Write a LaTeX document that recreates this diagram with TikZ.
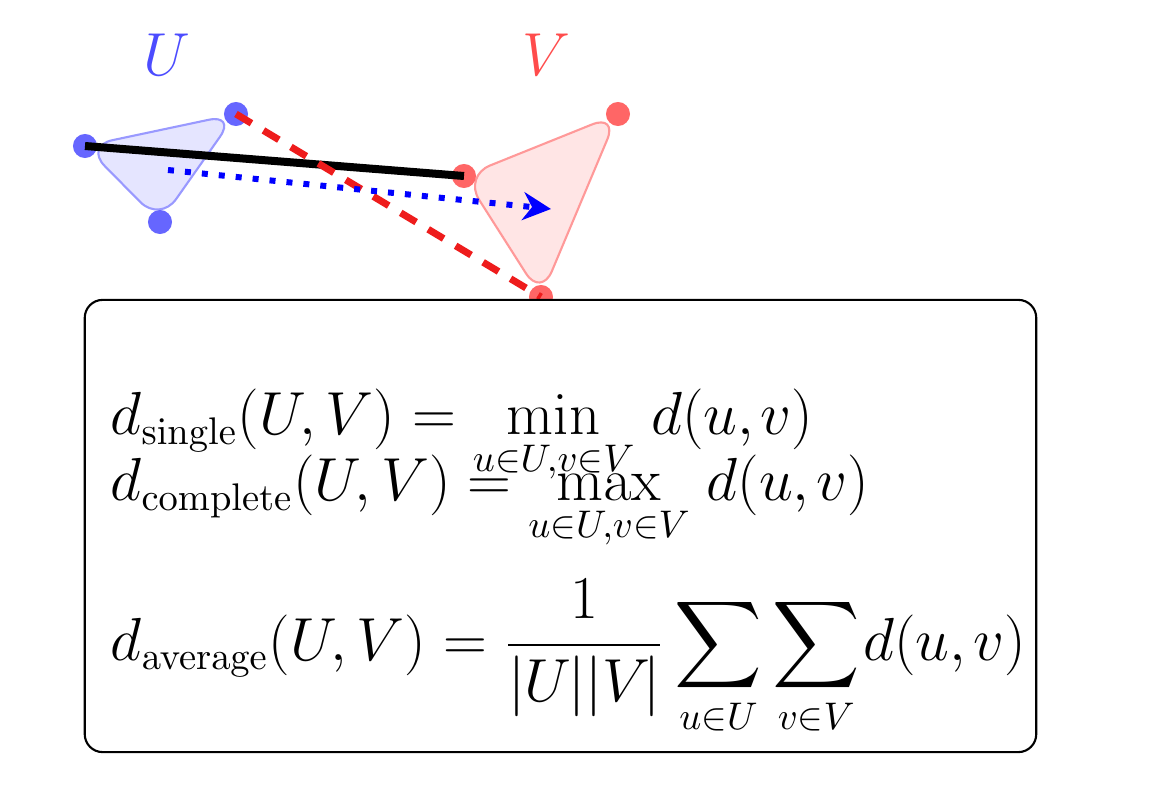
\documentclass[tikz,border=0pt]{standalone}
\usepackage{amsmath}
\usetikzlibrary{arrows.meta}
\definecolor{dashred}{RGB}{238,28,28}
\begin{document}
\begin{tikzpicture}[x=0.01cm,y=-0.01cm,
  udot/.style={circle,inner sep=0pt,minimum size=0.24cm,fill=blue!60},
  vdot/.style={circle,inner sep=0pt,minimum size=0.24cm,fill=red!60},
  utri/.style={fill=blue!10,draw=blue!40,line width=0.6pt,rounded corners=0.28cm},
  vtri/.style={fill=red!10,draw=red!40,line width=0.6pt,rounded corners=0.28cm},
  single/.style={line width=0.08cm,black},
  complete/.style={line width=0.07cm,dashred,dash pattern=on 0.18cm off 0.14cm},
  average/.style={line width=0.06cm,blue,dash pattern=on 0.06cm off 0.11cm,-{Stealth[length=0.28cm,width=0.28cm,inset=0.09cm]}},
  boxst/.style={draw=black,line width=0.6pt,fill=white,rounded corners=0.18cm,inner sep=0pt},
  formula/.style={anchor=base west,inner sep=0pt,font=\fontsize{15.9}{19}\selectfont},
  lab/.style={inner sep=0pt,font=\fontsize{15.9}{19}\selectfont}
]
\useasboundingbox (0,0) rectangle (1150,800);
\coordinate (u1) at (85,146);
\coordinate (u2) at (236,114);
\coordinate (u3) at (160,222);
\coordinate (v1) at (464,176);
\coordinate (v2) at (618,114);
\coordinate (v3) at (541,297);
\coordinate (cu) at (168,170);
\coordinate (cv) at (551,209);
\path[utri] (u1) -- (u2) -- (u3) -- cycle;
\path[vtri] (v1) -- (v2) -- (v3) -- cycle;
\node[udot] (du1) at (u1) {};
\node[udot] (du2) at (u2) {};
\node[udot] (du3) at (u3) {};
\node[vdot] (dv1) at (v1) {};
\node[vdot] (dv2) at (v2) {};
\node[vdot] (dv3) at (v3) {};
\node[lab,text=blue!70] (lu) at (167,55) {$U$};
\node[lab,text=red!70] (lv) at (546,55) {$V$};
\draw[single] (du1.center) -- (dv1.center);
\draw[complete] (du2.center) -- (dv3.center);
\draw[average] (cu) -- (cv);
\node[boxst,minimum width=9.51cm,minimum height=4.52cm] (box) at (560.5,526) {};
\node[formula] (f1) at (110,435) {$\displaystyle d_{\mathrm{single}}(U,V)=\min_{u\in U,v\in V}\mkern2mu d(u{,}\mkern2mu v)$};
\node[formula] (f2) at (110,501) {$\displaystyle d_{\mathrm{complete}}(U,V)=\max_{u\in U,v\in V}\mkern2mu d(u{,}\mkern2mu v)$};
\node[formula] (f3) at (110,660) {$\displaystyle d_{\mathrm{average}}(U,V)=\frac{1}{|U\mkern-1mu||V\mkern-2mu|}\sum_{u\in U}\sum_{v\in V}\mkern-2mu d(u{,}\mkern2mu v)$};
\end{tikzpicture}
\end{document}
